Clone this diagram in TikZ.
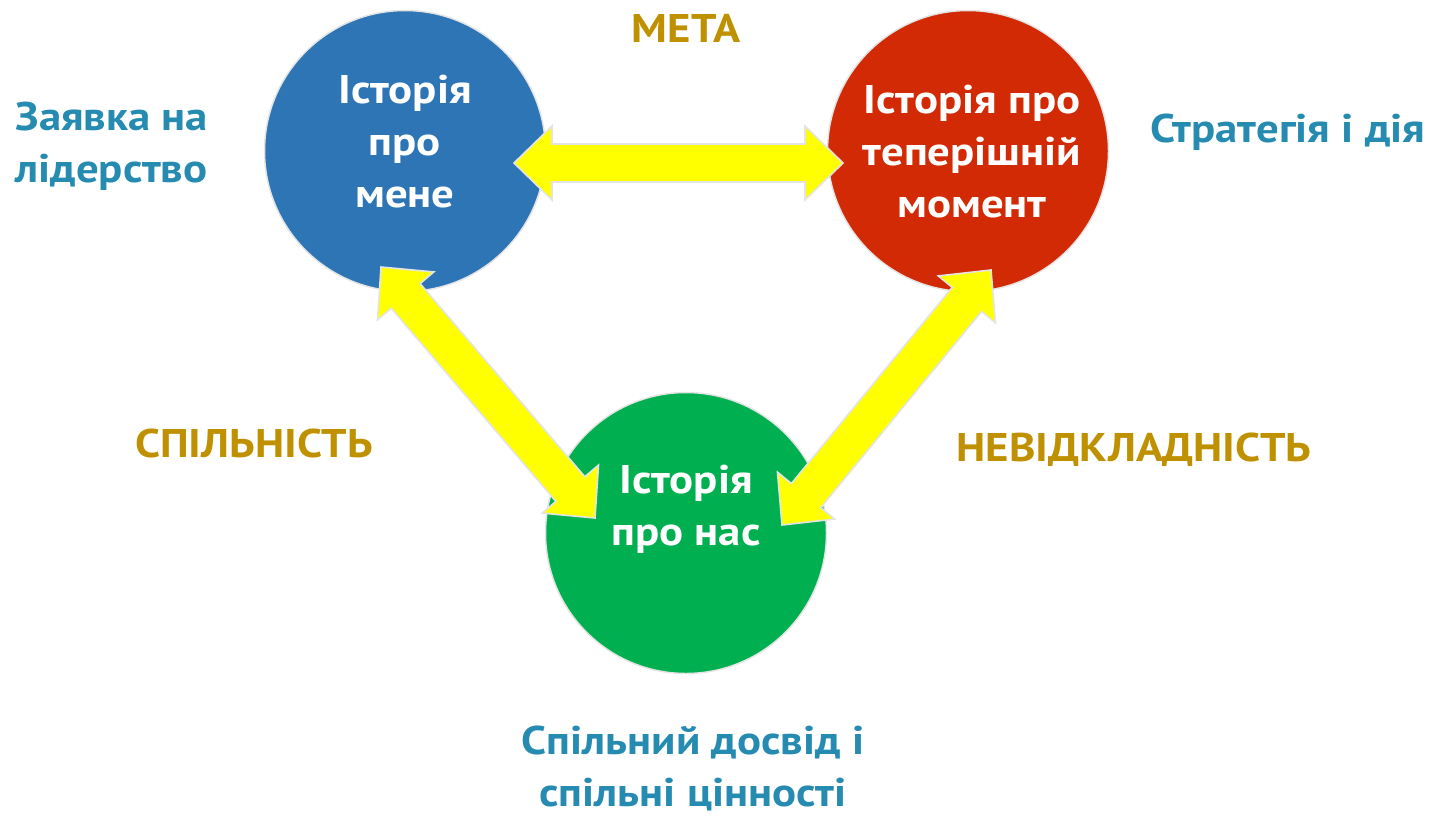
\documentclass[tikz,border=0pt]{standalone}
\usepackage{fontspec}
\setmainfont[FakeStretch=1.12]{PT Sans}
\usetikzlibrary{calc}

\definecolor{meblue}{RGB}{46,117,182}
\definecolor{nowred}{RGB}{210,42,4}
\definecolor{usgreen}{RGB}{0,176,80}
\definecolor{goldtxt}{RGB}{191,144,0}
\definecolor{tealtxt}{RGB}{38,139,176}
\definecolor{rimgray}{RGB}{228,228,228}
\definecolor{linkyellow}{RGB}{255,255,0}

% two-headed block arrow between two named points
\newcommand{\bothway}[2]{%
  \coordinate (ha) at ($(#1)!38pt!(#2)$);
  \coordinate (hb) at ($(#2)!38pt!(#1)$);
  \draw[link] (#1) -- ($(ha)!37pt!90:(#2)$) -- ($(ha)!19pt!90:(#2)$)
    -- ($(hb)!19pt!-90:(#1)$) -- ($(hb)!37pt!-90:(#1)$) -- (#2)
    -- ($(hb)!37pt!90:(#1)$) -- ($(hb)!19pt!90:(#1)$)
    -- ($(ha)!19pt!-90:(#2)$) -- ($(ha)!37pt!-90:(#2)$) -- cycle;}

\begin{document}
\begin{tikzpicture}[x=1pt, y=-1pt,
  every node/.style = {font=\bfseries\fontsize{40}{52}\selectfont, align=center},
  story/.style = {circle, draw=rimgray, line width=1.5pt,
    minimum size=281pt, inner sep=0pt},
  storytext/.style = {text=white},
  goal/.style = {text=goldtxt},
  note/.style = {text=tealtxt},
  link/.style = {fill=linkyellow, draw=rimgray, line width=1.6pt, line join=miter}]
  \useasboundingbox (0,0) rectangle (1451,815);

  \node[story, fill=meblue] (me) at (405,151) {};
  \node[story, fill=nowred] (now) at (968,151) {};
  \node[story, fill=usgreen] (us) at (686,533) {};

  \coordinate (meR) at (514,163);
  \coordinate (nowL) at (843,163);
  \coordinate (meB) at (381,267);
  \coordinate (usL) at (595,518);
  \coordinate (nowB) at (991,270);
  \coordinate (usR) at (782,525);

  \bothway{meR}{nowL}
  \bothway{meB}{usL}
  \bothway{nowB}{usR}

  \node[storytext] (meT) at (405,142) {Історія\\про\\мене};
  \node[storytext] (nowT) at (972,152) {Історія про\\теперішній\\момент};
  \node[storytext] (usT) at (686,509) {Історія\\про нас};

  \node[goal] (meta) at (686,28) {МЕТА};
  \node[goal] (togeth) at (254,443) {СПІЛЬНІСТЬ};
  \node[goal] (urgent) at (1134,450) {НЕВІДКЛАДНІСТЬ};

  \node[note, align=left, anchor=west] (claim) at (12,146) {Заявка на\\лідерство};
  \node[note] (strat) at (1288,132) {Стратегія і дія};
  \node[note] (values) at (693,768) {Спільний досвід і\\спільні цінності};
\end{tikzpicture}
\end{document}
